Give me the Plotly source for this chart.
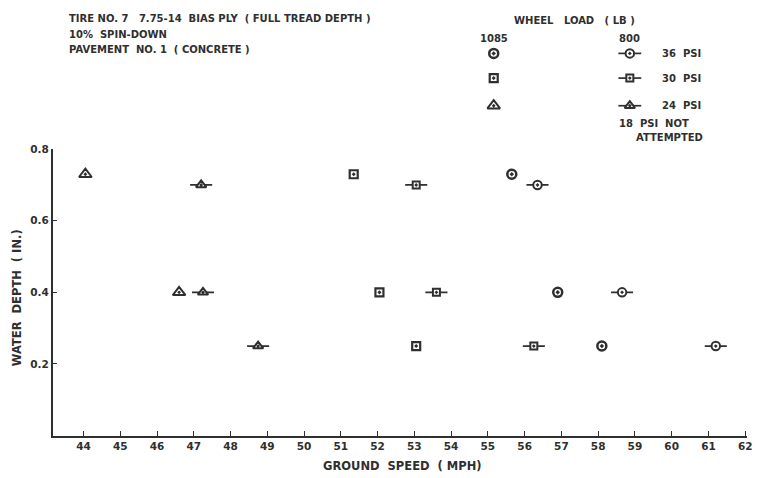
import plotly.graph_objects as go

# ---------------- data ----------------
# Wheel load 1085 lb
speed_1085_36 = [55.65, 56.9, 58.1]
depth_1085_36 = [0.73, 0.40, 0.25]
speed_1085_30 = [51.35, 52.05, 53.05]
depth_1085_30 = [0.73, 0.40, 0.25]
speed_1085_24 = [44.05, 46.6]
depth_1085_24 = [0.73, 0.40]

# Wheel load 800 lb
speed_800_36 = [56.35, 58.65, 61.2]
depth_800_36 = [0.70, 0.40, 0.25]
speed_800_30 = [53.05, 53.6, 56.25]
depth_800_30 = [0.70, 0.40, 0.25]
speed_800_24 = [47.2, 47.25, 48.75]
depth_800_24 = [0.70, 0.40, 0.25]

x_ticks = list(range(44, 63))
y_ticks = [0.2, 0.4, 0.6, 0.8]

header_lines = [
    "TIRE NO. 7   7.75-14  BIAS PLY  ( FULL TREAD DEPTH )",
    "10%  SPIN-DOWN",
    "PAVEMENT  NO. 1  ( CONCRETE )",
]
pressures = ["36  PSI", "30  PSI", "24  PSI"]
loads = ["1085", "800"]

# ---------------- style ----------------
W, H = 758, 478
INK = "#2f2f2f"
FONT = dict(family="DejaVu Sans, Liberation Sans, sans-serif", size=10, color=INK,
            weight="bold")
symbols = {"36": "circle", "30": "square", "24": "triangle-up"}
size_heavy = {"36": 9, "30": 8, "24": 11}
width_heavy = {"36": 2.5, "30": 2.2, "24": 2.0}
size_light = {"36": 8.5, "30": 7, "24": 9}

# plot area in pixels
L, R, T, B = 53, 752, 145, 435


def px2paper_x(px):
    return px / W


def px2paper_y(py):
    return 1 - py / H


fig = go.Figure()


def add_light(x, y, psi, axis=("x", "y")):
    # 800 lb: open marker with centre dot and short dashes either side
    fig.add_trace(go.Scatter(
        x=x, y=y, mode="markers", xaxis=axis[0], yaxis=axis[1],
        marker=dict(symbol=symbols[psi] + "-dot", size=size_light[psi], color="white",
                    line=dict(color=INK, width=2)),
        error_x=dict(type="constant", value=0.3 if axis[0] == "x" else 11.5,
                     width=0, thickness=1.7, color=INK),
        showlegend=False, hoverinfo="skip",
    ))


def add_heavy(x, y, psi, axis=("x", "y")):
    # 1085 lb: heavy outline with centre dot
    fig.add_trace(go.Scatter(
        x=x, y=y, mode="markers", xaxis=axis[0], yaxis=axis[1],
        marker=dict(symbol=symbols[psi] + "-open-dot", size=size_heavy[psi], color=INK,
                    line=dict(color=INK, width=width_heavy[psi])),
        showlegend=False, hoverinfo="skip",
    ))


add_heavy(speed_1085_36, depth_1085_36, "36")
add_heavy(speed_1085_30, depth_1085_30, "30")
add_heavy(speed_1085_24, depth_1085_24, "24")
add_light(speed_800_36, depth_800_36, "36")
add_light(speed_800_30, depth_800_30, "30")
add_light(speed_800_24, depth_800_24, "24")

# ---------------- key (pixel-coordinate overlay axis) ----------------
key_x_1085, key_x_800 = 497, 634
key_rows = [48, 73, 101]
for psi, row in zip(["36", "30", "24"], key_rows):
    add_heavy([key_x_1085], [row], psi, axis=("x2", "y2"))
    add_light([key_x_800], [row], psi, axis=("x2", "y2"))


def note(text, px, py, anchor="left", size=None, angle=0):
    f = dict(FONT) if size is None else dict(FONT, size=size)
    return dict(text=text, x=px2paper_x(px), y=px2paper_y(py), xanchor=anchor,
                yanchor="middle", showarrow=False, xref="paper", yref="paper",
                font=f, textangle=angle)


annotations = []
for i, line in enumerate(header_lines):
    annotations.append(note(line, 67, 13 + 15.5 * i))
annotations.append(note("WHEEL   LOAD   ( LB )", 578, 15, "center"))
annotations.append(note(loads[0], key_x_1085, 33, "center"))
annotations.append(note(loads[1], key_x_800, 33, "center"))
for p, row in zip(pressures, key_rows):
    annotations.append(note(p, 664, row))
annotations.append(note("18  PSI  NOT", 621, 119))
annotations.append(note("ATTEMPTED", 638, 133))
annotations.append(note("GROUND  SPEED  ( MPH)", 405, 466, "center", size=11.5))
annotations.append(note("WATER  DEPTH  ( IN.)", 17, 295, "center", size=11.5, angle=-90))

axis_common = dict(showgrid=False, zeroline=False, showline=True, linecolor=INK,
                   linewidth=1.6, ticks="inside", ticklen=5, tickwidth=1.2,
                   tickcolor=INK, tickfont=dict(FONT, size=10.5), mirror=False)

fig.update_layout(
    width=W, height=H,
    margin=dict(l=0, r=0, t=0, b=0),
    paper_bgcolor="white", plot_bgcolor="rgba(0,0,0,0)",
    showlegend=False,
    xaxis=dict(axis_common, range=[43.16, 62.05], tickvals=x_ticks,
               ticktext=[str(v) for v in x_ticks],
               domain=[px2paper_x(L), px2paper_x(R)], anchor="y"),
    yaxis=dict(axis_common, range=[0, 0.8], tickvals=y_ticks,
               ticktext=[f"{v:.1f}" for v in y_ticks],
               domain=[px2paper_y(B), px2paper_y(T)], anchor="x"),
    xaxis2=dict(range=[0, W], domain=[0, 1], visible=False, anchor="y2"),
    yaxis2=dict(range=[H, 0], domain=[0, 1], visible=False, anchor="x2"),
    annotations=annotations,
)

fig.write_html("out.html")
